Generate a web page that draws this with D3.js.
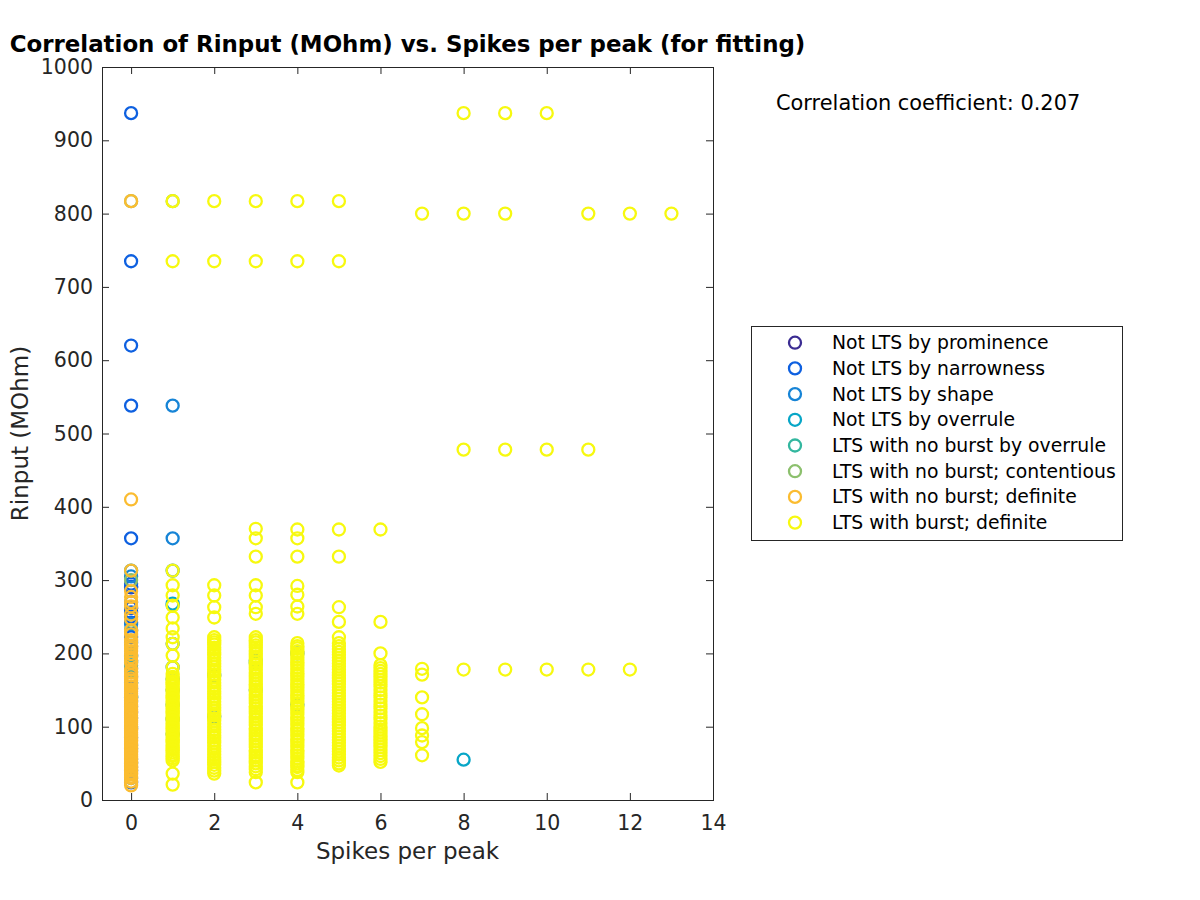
<!DOCTYPE html>
<html><head><meta charset="utf-8">
<script src="https://cdn.jsdelivr.net/npm/d3@7"></script>
<style>body{margin:0;background:#fff} svg{display:block;font-family:"DejaVu Sans",sans-serif}</style>
</head><body>
<svg id="c" width="1200" height="900"></svg>
<script>
// ---------------- DATA ----------------
const categories = [
  "Not LTS by prominence",
  "Not LTS by narrowness",
  "Not LTS by shape",
  "Not LTS by overrule",
  "LTS with no burst by overrule",
  "LTS with no burst; contentious",
  "LTS with no burst; definite",
  "LTS with burst; definite"
];
const xTicks = [0, 2, 4, 6, 8, 10, 12, 14];
const yTicks = [0, 100, 200, 300, 400, 500, 600, 700, 800, 900, 1000];
const titleText = "Correlation of Rinput (MOhm) vs. Spikes per peak (for fitting)";
const xLabelText = "Spikes per peak";
const yLabelText = "Rinput (MOhm)";
const corrText = "Correlation coefficient: 0.207";

// [spikes per peak, Rinput (MOhm)]
const notLtsProminence = [[0,290],[0,262],[0,120],[0,45]];
const notLtsNarrowness = [
  [0,937],[0,735],[0,620],[0,538],[0,357],[0,295],[0,291],[0,262],[0,256],[0,250],[0,242],
  [0,232],[0,222],[0,210],[0,196],[0,180],[0,168],[0,152],[0,140],[0,128],[0,112],[0,98],
  [0,85],[0,70],[0,56],[0,40],[0,24]
];
const notLtsShape = [
  [0,305],[0,270],[0,240],[0,215],[0,190],[0,160],[0,135],[0,100],[0,75],[0,50],[0,30],
  [1,538],[1,357],[1,313],[1,266],[1,213],[1,181],[1,165],[1,150],[1,130],[1,110],[1,90],
  [2,170],[2,114],[3,190],[3,150],[4,200],[4,130]
];
const notLtsOverrule = [[0,313],[0,197],[0,184],[0,160],[0,140],[1,268],[8,55]];
const ltsNoBurstOverrule = [[0,188],[0,175],[3,187]];
const ltsNoBurstContentious = [[0,817],[0,300],[0,230],[1,817]];
const ltsNoBurstDefinite = [
  [0,817],[0,410],[0,313],[0,285],[0,270],[0,264],[0,247],
  [0,232],[0,218],[0,210],[0,203],[0,195],[0,187],[0,178],[0,170],[0,163],
  [0,155],[0,148],[0,142],[0,136],[0,130],[0,124],[0,118],[0,112],[0,106],[0,100],[0,95],
  [0,90],[0,85],[0,80],[0,75],[0,70],[0,65],[0,60],[0,55],[0,50],[0,45],[0,40],[0,35],
  [0,30],[0,25],[0,20],
  [0,277],[0,253],[0,226],[0,214],[0,207],
  [0,199],[0,191],[0,174],[0,166],[0,159],[0,151],[0,145],[0,139],[0,133],[0,127],
  [0,121],[0,115],[0,109],[0,103],[0,97],[0,92],[0,87],[0,82],[0,77],[0,72],[0,67],[0,62],
  [0,57],[0,52],[0,47],[0,42],[0,37],[0,32]
];
const ltsBurstDefinite = [
  // x = 1
  [1,817],[1,735],[1,313],[1,293],[1,279],[1,265],[1,249],[1,234],[1,222],[1,213],[1,197],
  [1,181],[1,172],[1,165],[1,160],[1,155],[1,150],[1,145],[1,140],[1,135],[1,130],[1,125],
  [1,120],[1,115],[1,110],[1,105],[1,100],[1,95],[1,90],[1,85],[1,80],[1,75],[1,70],[1,65],
  [1,60],[1,54],[1,36],[1,21],
  [1,168],[1,162],[1,158],[1,152],[1,148],[1,142],[1,138],[1,132],[1,128],[1,122],[1,118],
  [1,112],[1,108],[1,102],[1,98],[1,92],[1,88],[1,82],[1,78],[1,72],[1,68],[1,62],[1,57],
  // x = 2
  [2,817],[2,735],[2,293],[2,279],[2,263],[2,249],[2,222],[2,212],[2,205],[2,198],[2,190],
  [2,182],[2,175],[2,168],[2,160],[2,152],[2,145],[2,138],[2,130],[2,122],[2,115],[2,108],
  [2,100],[2,92],[2,85],[2,78],[2,70],[2,62],[2,55],[2,48],[2,36],
  [2,218],[2,215],[2,208],[2,201],[2,194],[2,186],[2,178],[2,171],[2,164],[2,156],[2,148],
  [2,141],[2,134],[2,126],[2,118],[2,111],[2,104],[2,96],[2,88],[2,81],[2,74],[2,66],[2,58],
  [2,52],[2,44],[2,40],
  // x = 3
  [3,817],[3,735],[3,370],[3,357],[3,332],[3,293],[3,279],[3,263],[3,254],[3,222],[3,215],
  [3,208],[3,200],[3,192],[3,185],[3,178],[3,170],[3,162],[3,155],[3,148],[3,140],[3,132],
  [3,125],[3,118],[3,110],[3,102],[3,95],[3,88],[3,80],[3,72],[3,65],[3,58],[3,50],[3,38],[3,24],
  [3,218],[3,211],[3,204],[3,196],[3,188],[3,181],[3,174],[3,166],[3,158],[3,151],[3,144],
  [3,136],[3,128],[3,121],[3,114],[3,106],[3,98],[3,91],[3,84],[3,76],[3,68],[3,61],[3,54],
  [3,46],[3,42],
  // x = 4
  [4,817],[4,735],[4,369],[4,357],[4,332],[4,292],[4,280],[4,264],[4,254],[4,214],[4,207],
  [4,200],[4,192],[4,185],[4,177],[4,170],[4,162],[4,155],[4,147],[4,140],[4,132],[4,125],
  [4,117],[4,110],[4,102],[4,95],[4,87],[4,80],[4,72],[4,65],[4,57],[4,50],[4,45],[4,38],[4,24],
  [4,210],[4,203],[4,196],[4,188],[4,181],[4,173],[4,166],[4,158],[4,151],[4,143],[4,136],
  [4,128],[4,121],[4,113],[4,106],[4,98],[4,91],[4,83],[4,76],[4,68],[4,61],[4,53],[4,47],[4,41],
  // x = 5
  [5,817],[5,735],[5,369],[5,332],[5,263],[5,243],[5,222],[5,214],[5,206],[5,198],[5,190],
  [5,182],[5,174],[5,166],[5,158],[5,150],[5,142],[5,134],[5,126],[5,118],[5,110],[5,102],
  [5,94],[5,86],[5,78],[5,70],[5,62],[5,54],[5,47],
  [5,210],[5,202],[5,194],[5,186],[5,178],[5,170],[5,162],[5,154],[5,146],[5,138],
  [5,130],[5,122],[5,114],[5,106],[5,98],[5,90],[5,82],[5,74],[5,66],[5,58],[5,50],
  // x = 6
  [6,369],[6,243],[6,200],[6,184],[6,176],[6,168],[6,160],[6,150],[6,140],[6,130],[6,120],
  [6,110],[6,100],[6,92],[6,84],[6,76],[6,68],[6,60],[6,52],
  [6,180],[6,172],[6,164],[6,155],[6,145],[6,135],[6,125],[6,115],[6,105],[6,96],[6,88],
  [6,80],[6,72],[6,64],[6,56],
  // x = 7
  [7,800],[7,179],[7,171],[7,140],[7,117],[7,98],[7,88],[7,79],[7,61],
  // x >= 8
  [8,937],[8,800],[8,478],[8,178],
  [9,937],[9,800],[9,478],[9,178],
  [10,937],[10,478],[10,178],
  [11,800],[11,478],[11,178],
  [12,800],[12,178],
  [13,800]
];

const seriesData = [
  notLtsProminence, notLtsNarrowness, notLtsShape, notLtsOverrule,
  ltsNoBurstOverrule, ltsNoBurstContentious, ltsNoBurstDefinite, ltsBurstDefinite
];

// ---------------- STYLE ----------------
const colors = ["#3b2c92","#0e60e0","#1684d6","#07a6c7","#33b79f","#8cc06d","#fbbc30","#f7f90f"];
const axisColor = "#262626";
const W = 1200, H = 900;
const plot = {left: 102, right: 713, top: 67, bottom: 800};
const tickFont = 20.5, labelFont = 23, legendFont = 18.8, titleFont = 22.9, textFont = 20.9;
const markerR = 6, markerW = 2.3;

const svg = d3.select("#c");
svg.append("rect").attr("width", W).attr("height", H).attr("fill", "#fff");

const x = d3.scaleLinear().domain([-0.7, 14]).range([plot.left, plot.right]);
const y = d3.scaleLinear().domain([0, 1000]).range([plot.bottom, plot.top]);

// points
const gPts = svg.append("g");
seriesData.forEach((pts, i) => {
  gPts.append("g").selectAll("circle").data(pts).join("circle")
    .attr("cx", d => x(d[0])).attr("cy", d => y(d[1])).attr("r", markerR)
    .attr("fill", "none").attr("stroke", colors[i]).attr("stroke-width", markerW);
});

// axes
function styleAxis(g) {
  g.select(".domain").remove();
  g.selectAll(".tick line").attr("stroke", axisColor).attr("stroke-width", 1);
  g.selectAll(".tick text").attr("fill", axisColor).attr("font-size", tickFont)
    .attr("font-family", "DejaVu Sans");
}
svg.append("g").attr("transform", `translate(0,${plot.bottom})`)
  .call(d3.axisBottom(x).tickValues(xTicks).tickSize(-7).tickPadding(15).tickFormat(d3.format("d")))
  .call(styleAxis);
svg.append("g").attr("transform", `translate(0,${plot.top})`)
  .call(d3.axisTop(x).tickValues(xTicks).tickSize(-7).tickFormat(""))
  .call(styleAxis);
svg.append("g").attr("transform", `translate(${plot.left},0)`)
  .call(d3.axisLeft(y).tickValues(yTicks).tickSize(-7).tickPadding(9).tickFormat(d3.format("d")))
  .call(styleAxis);
svg.append("g").attr("transform", `translate(${plot.right},0)`)
  .call(d3.axisRight(y).tickValues(yTicks).tickSize(-7).tickFormat(""))
  .call(styleAxis);
svg.append("rect").attr("x", plot.left + 0.5).attr("y", plot.top + 0.5)
  .attr("width", plot.right - plot.left).attr("height", plot.bottom - plot.top)
  .attr("fill", "none").attr("stroke", axisColor).attr("stroke-width", 1);

// labels
svg.append("text").attr("x", (plot.left + plot.right) / 2).attr("y", 52)
  .attr("text-anchor", "middle").attr("font-weight", "bold").attr("font-size", titleFont)
  .attr("fill", "#000").text(titleText);
svg.append("text").attr("x", (plot.left + plot.right) / 2).attr("y", 859)
  .attr("text-anchor", "middle").attr("font-size", labelFont).attr("fill", axisColor).text(xLabelText);
svg.append("text").attr("transform", `translate(28,${(plot.top + plot.bottom) / 2}) rotate(-90)`)
  .attr("text-anchor", "middle").attr("font-size", labelFont).attr("fill", axisColor).text(yLabelText);
svg.append("text").attr("x", 776).attr("y", 110).attr("font-size", textFont).attr("fill", "#000").text(corrText);

// legend
const leg = svg.append("g");
leg.append("rect").attr("x", 751.5).attr("y", 326.5).attr("width", 371).attr("height", 214)
  .attr("fill", "#fff").attr("stroke", axisColor).attr("stroke-width", 1);
const rows = leg.selectAll("g.row").data(categories).join("g").attr("class", "row")
  .attr("transform", (d, i) => `translate(0,${342.7 + i * 25.7})`);
rows.append("circle").attr("cx", 795).attr("cy", 0).attr("r", markerR)
  .attr("fill", "none").attr("stroke", (d, i) => colors[i]).attr("stroke-width", markerW);
rows.append("text").attr("x", 832).attr("y", 0).attr("dy", "0.35em")
  .attr("font-size", legendFont).attr("fill", "#000").text(d => d);
</script>
</body></html>
